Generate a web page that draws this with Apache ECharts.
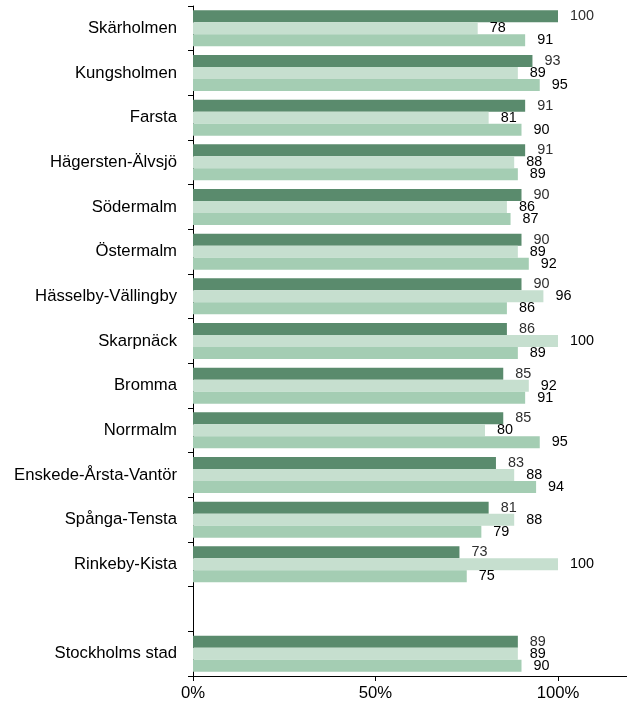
<!DOCTYPE html>
<html>
<head>
<meta charset="utf-8">
<script src="https://cdn.jsdelivr.net/npm/echarts@6/dist/echarts.min.js"></script>
<style>html,body{margin:0;padding:0;background:#fff}#c{width:627px;height:705px}</style>
</head>
<body>
<div id="c"></div>
<script>
const categories = ['Skärholmen','Kungsholmen','Farsta','Hägersten-Älvsjö','Södermalm','Östermalm','Hässelby-Vällingby','Skarpnäck','Bromma','Norrmalm','Enskede-Årsta-Vantör','Spånga-Tensta','Rinkeby-Kista','','Stockholms stad'];
const series1 = [100,93,91,91,90,90,90,86,85,85,83,81,73,null,89];
const series2 = [78,89,81,88,86,89,96,100,92,80,88,88,100,null,89];
const series3 = [91,95,90,89,87,92,86,89,91,95,94,79,75,null,90];
const xTicks = [0,50,100];

const chart = echarts.init(document.getElementById('c'));
function mk(data, color, labelColor) {
  return {
    type: 'bar', data: data, barWidth: 12, barGap: '0%',
    itemStyle: { color: color },
    label: { show: true, position: 'right', distance: 12, color: labelColor,
      fontFamily: 'Liberation Sans, Arial', fontSize: 14.4 },
    silent: true
  };
}
chart.setOption({
  animation: false,
  grid: { left: 193, top: 6, height: 670, width: 438, outerBoundsMode: 'none', containLabel: false },
  xAxis: {
    type: 'value', min: 0, max: 120, interval: 50,
    axisLine: { show: true, lineStyle: { color: '#000' } },
    axisTick: { show: true, length: 5, lineStyle: { color: '#000' } },
    splitLine: { show: false },
    axisLabel: { color: '#000', fontFamily: 'Liberation Sans, Arial', fontSize: 16.7, margin: 9,
      formatter: function (v) { return xTicks.indexOf(v) >= 0 ? v + '%' : ''; } }
  },
  yAxis: {
    type: 'category', data: categories, inverse: true,
    axisLine: { show: true, lineStyle: { color: '#000' } },
    axisTick: { show: true, length: 5, lineStyle: { color: '#000' } },
    axisLabel: { color: '#000', fontFamily: 'Liberation Sans, Arial', fontSize: 16.7, margin: 16 }
  },
  series: [
    mk(series1, '#5a8b6d', '#2e2e2e'),
    mk(series2, '#c6dfcf', '#000'),
    mk(series3, '#a4cdb3', '#000')
  ]
});
</script>
</body>
</html>
